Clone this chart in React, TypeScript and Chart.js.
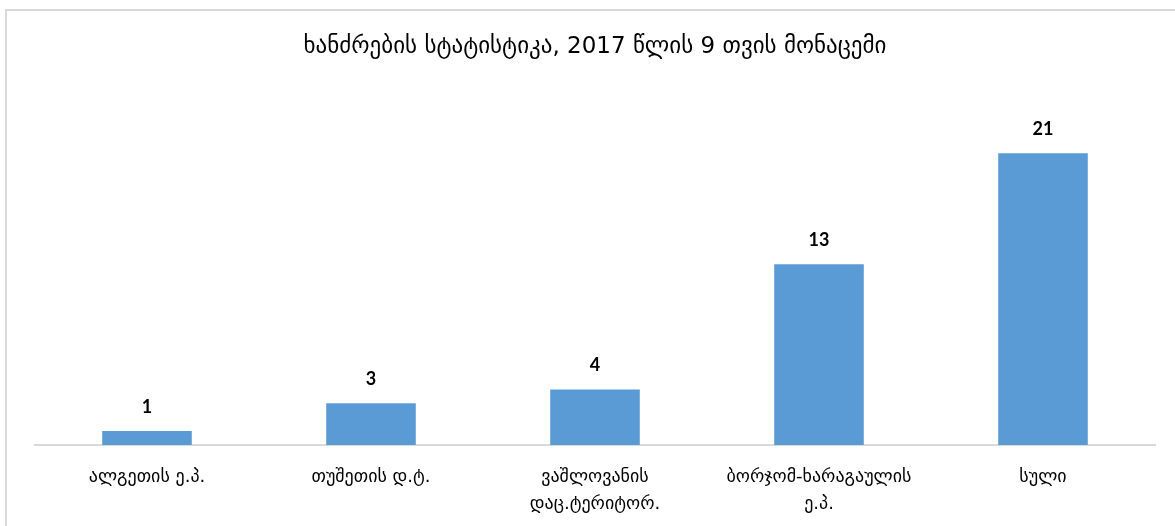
import React, { useEffect, useRef } from "react";
import { Chart, registerables } from "chart.js";

Chart.register(...registerables);

const TITLE = "ხანძრების სტატისტიკა, 2017 წლის 9 თვის მონაცემი";
const categories: (string | string[])[] = [
  "ალგეთის ე.პ.",
  "თუშეთის დ.ტ.",
  ["ვაშლოვანის", "დაც.ტერიტორ."],
  ["ბორჯომ-ხარაგაულის", "ე.პ."],
  "სული",
];
const values = [1, 3, 4, 13, 21];
const Y_MAX = 25;

const GEO_FONT = "'DejaVu Sans', 'Noto Sans', sans-serif";

const valueLabels = {
  id: "valueLabels",
  afterDatasetsDraw(chart: any) {
    const ctx = chart.ctx;
    const meta = chart.getDatasetMeta(0);
    ctx.save();
    ctx.font = "bold 18px Lato, 'Open Sans', sans-serif";
    ctx.fillStyle = "#000000";
    ctx.textAlign = "center";
    ctx.textBaseline = "middle";
    meta.data.forEach((el: any, i: number) => {
      ctx.fillText(String(values[i]), el.x, el.y - 24);
    });
    ctx.restore();
  },
};

export default function App() {
  const ref = useRef<HTMLCanvasElement | null>(null);
  useEffect(() => {
    document.body.style.margin = "0";
    document.body.style.overflow = "hidden";
    const chart = new Chart(ref.current!, {
      type: "bar",
      data: {
        labels: categories,
        datasets: [
          {
            data: values,
            backgroundColor: "#5B9BD5",
            borderWidth: 0,
            barPercentage: 0.4,
            categoryPercentage: 1,
          },
        ],
      },
      options: {
        animation: false,
        responsive: false,
        layout: { padding: { left: 35, right: 20, top: 0, bottom: 0 } },
        plugins: {
          legend: { display: false },
          tooltip: { enabled: false },
          title: {
            display: true,
            text: TITLE,
            color: "#000000",
            font: { family: GEO_FONT, size: 23, weight: "normal", lineHeight: 1.2 },
            padding: { top: 33, bottom: 37 },
          },
        },
        scales: {
          x: {
            grid: { display: false },
            border: { display: true, color: "#d9d9d9", width: 2 },
            ticks: {
              color: "#000000",
              font: { family: GEO_FONT, size: 18, lineHeight: 1.5 },
              padding: 11,
              maxRotation: 0,
              autoSkip: false,
            },
            afterFit(scale: any) {
              scale.height = 526 - 445;
            },
          },
          y: {
            display: false,
            min: 0,
            max: Y_MAX,
          },
        },
      },
      plugins: [valueLabels],
    });
    return () => chart.destroy();
  }, []);
  return (
    <div style={{ position: "relative", width: 1175, height: 526, overflow: "hidden" }}>
      <div
        style={{
          position: "absolute",
          left: 5,
          top: 9,
          width: 1200,
          height: 600,
          border: "2px solid #d9d9d9",
          boxSizing: "border-box",
        }}
      />
      <canvas
        ref={ref}
        width={1175}
        height={526}
        style={{ position: "absolute", left: 0, top: 0, width: 1175, height: 526 }}
      />
    </div>
  );
}
